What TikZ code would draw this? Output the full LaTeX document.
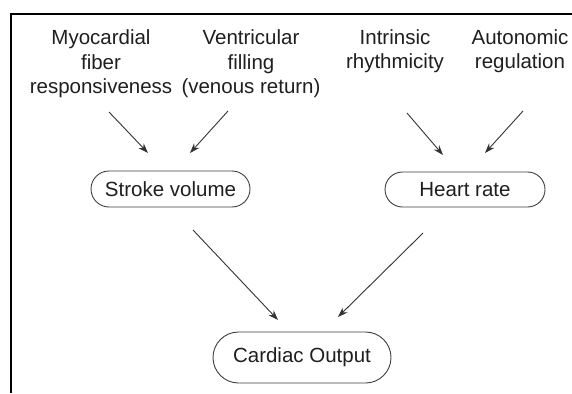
\documentclass[tikz,border=0pt]{standalone}
\usepackage{fontspec}
\setmainfont{Liberation Sans}
\usetikzlibrary{shapes.misc,arrows.meta}
\tikzset{
  lbl/.style={anchor=base, align=center, inner sep=0pt, text=black!88,
    font=\fontsize{20.5}{24.5}\selectfont},
  pill/.style={rounded rectangle, draw=black!75, line width=0.9pt, inner sep=0pt,
    text=black!88, font=\fontsize{20.5}{24.5}\selectfont},
  arr/.style={draw=black!80, line width=0.9pt, -{Stealth[length=10pt,width=7pt]}},
  frame/.style={line width=2pt, draw=black}
}
\begin{document}
\begin{tikzpicture}[x=1pt,y=-1pt]
\useasboundingbox (0,0) rectangle (572,393);
\fill[white] (0,0) rectangle (572,393);
\draw[frame] (572,14) -- (11,14) -- (11,393);

\node[lbl] (myo) at (101,93.5) {Myocardial\\fiber\\responsiveness};
\node[lbl] (ven) at (251,93.5) {Ventricular\\filling\\(venous return)};
\node[lbl] (intr) at (395,69) {Intrinsic\\rhythmicity};
\node[lbl] (auto) at (520,69) {Autonomic\\regulation};

\node[pill, minimum width=159pt, minimum height=36pt] (sv) at (170.5,189) {Stroke volume};
\node[pill, minimum width=160pt, minimum height=35pt] (hr) at (465,189.5) {Heart rate};
\node[pill, minimum width=178pt, minimum height=51pt] (co) at (302,357.5) {Cardiac Output};

\coordinate (a1s) at (109,112); \coordinate (a1e) at (148,153);
\coordinate (a2s) at (228,111); \coordinate (a2e) at (190,153);
\coordinate (a3s) at (407,113); \coordinate (a3e) at (443,155);
\coordinate (a4s) at (523,111); \coordinate (a4e) at (485,153);
\coordinate (a5s) at (193,230); \coordinate (a5e) at (278,320);
\coordinate (a6s) at (423,233); \coordinate (a6e) at (338,317);

\draw[arr] (a1s) -- (a1e);
\draw[arr] (a2s) -- (a2e);
\draw[arr] (a3s) -- (a3e);
\draw[arr] (a4s) -- (a4e);
\draw[arr] (a5s) -- (a5e);
\draw[arr] (a6s) -- (a6e);
\end{tikzpicture}
\end{document}
